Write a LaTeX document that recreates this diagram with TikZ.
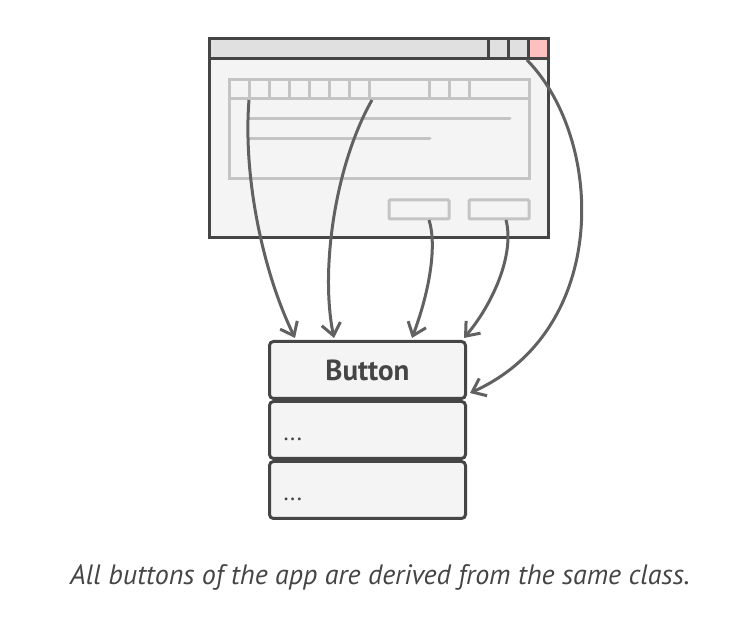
\documentclass[tikz,border=0pt]{standalone}
\usepackage{fontspec}
\setmainfont{PT Sans}
\usepackage{xcolor}
\usetikzlibrary{arrows.meta}
\definecolor{frame}{HTML}{454545}
\definecolor{wire}{HTML}{616161}
\definecolor{ghost}{HTML}{C4C4C4}
\definecolor{paper}{HTML}{F4F4F4}
\definecolor{titlebar}{HTML}{E0E0E0}
\definecolor{closebtn}{HTML}{FFC0C0}
\tikzset{
    winframe/.style={draw=frame, line width=3pt},
    ghostline/.style={draw=ghost, line width=3pt},
    classpart/.style={draw=frame, fill=paper, line width=3pt, rounded corners=4pt,
        minimum width=196pt, minimum height=57pt, inner sep=0pt, text=frame},
    member/.style={label={[text=frame, font=\fontsize{24}{28}\selectfont,
        anchor=base west, xshift=12pt, yshift=19pt]south west:.\hspace{1.5pt}.\hspace{1.5pt}.}},
    derive/.style={draw=wire, line width=3pt,
        -{Straight Barb[length=12pt,width=19pt,line width=3pt]}}
}
\begin{document}
\begin{tikzpicture}[x=1pt,y=-1pt]
		\useasboundingbox[fill=white] (0,0) rectangle (737,617);

		% window
		\draw[winframe, fill=paper] (209,39) rectangle (548,238);
		\draw[winframe, fill=titlebar] (209,39) rectangle (548,59);
		\draw[winframe, fill=closebtn] (528,39) rectangle (548,59);
		\draw[winframe] (488,39) -- (488,59);
		\draw[winframe] (508,39) -- (508,59);

		% tabs and text area
		\draw[ghostline] (229,80) rectangle (529,179);
		\draw[ghostline] (229,99) -- (529,99);
		\foreach \tx in {249,269,289,309,329,349,369,429,449,469}
			\draw[ghostline] (\tx,80) -- (\tx,99);
		\draw[ghostline, line cap=round] (249,119) -- (510,119);
		\draw[ghostline, line cap=round] (249,139) -- (430,139);

		% buttons
		\draw[ghostline, rounded corners=1pt] (389,200) rectangle (449,219);
		\draw[ghostline, rounded corners=1pt] (469,200) rectangle (529,219);

		\coordinate (tabA) at (249,100);
		\coordinate (tabB) at (372,100);
		\coordinate (btnA) at (429,220);
		\coordinate (btnB) at (506,220);
		\coordinate (close) at (527,60);

		% class box
		\node[classpart, font=\fontsize{29}{34}\selectfont\bfseries] (hdr) at (367.5,370) {Button};
		\node[classpart, member] (fields) at (367.5,430) {};
		\node[classpart, member] (methods) at (367.5,490) {};

		% arrows
		\draw[derive] (tabA) .. controls (243,175) and (262,270) .. ([xshift=27pt,yshift=2pt]hdr.north west);
		\draw[derive] (tabB) .. controls (335,165) and (320,270) .. ([xshift=66pt,yshift=2pt]hdr.north west);
		\draw[derive] (btnA) .. controls (437,245) and (430,290) .. ([xshift=-55pt,yshift=2pt]hdr.north east);
		\draw[derive] (btnB) .. controls (515,255) and (492,305) .. ([xshift=-3pt,yshift=2pt]hdr.north east);
		\draw[derive] (close) .. controls (605,140) and (610,330) .. ([xshift=3pt,yshift=7pt]hdr.south east);

		\node[text=frame, font=\fontsize{28}{32}\selectfont\itshape] (caption) at (380,577)
			{All buttons of the app are derived from the same class.};
\end{tikzpicture}
\end{document}
